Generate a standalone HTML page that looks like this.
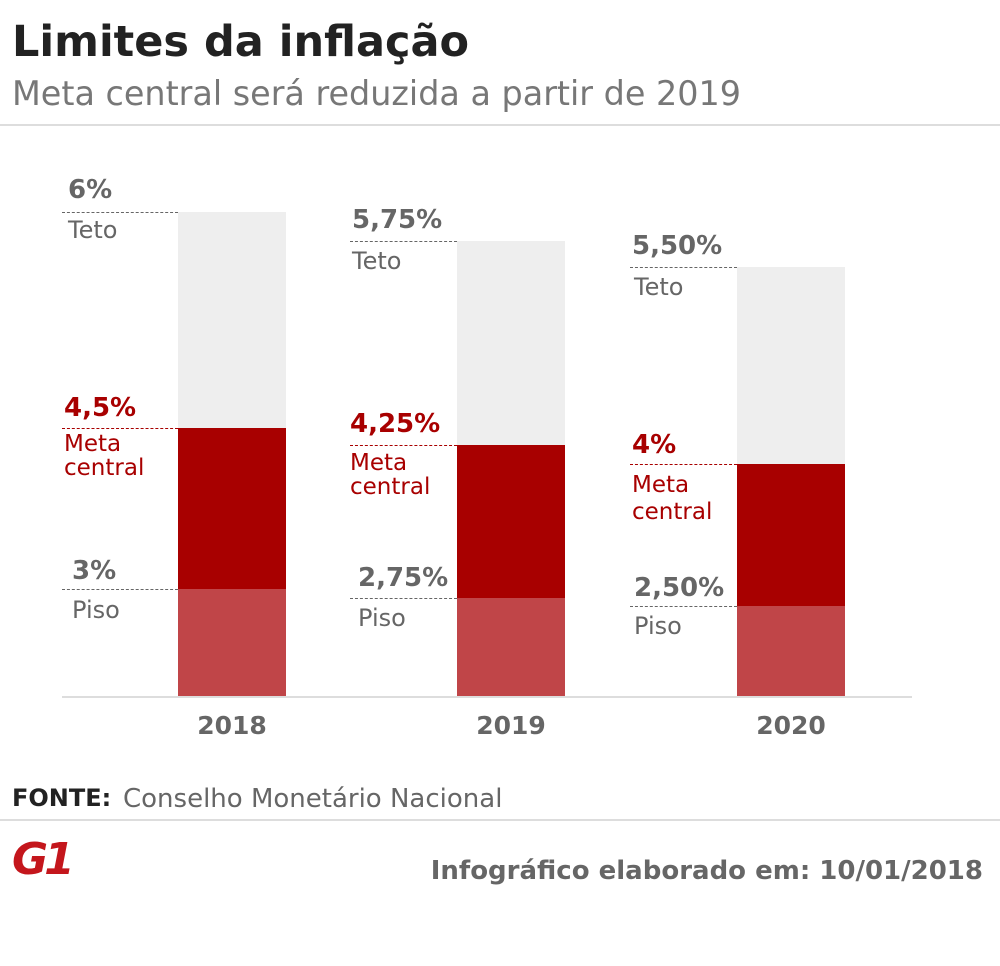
<!DOCTYPE html>
<html><head><meta charset="utf-8"><style>
body{margin:0;width:1000px;height:966px;background:#fff;position:relative;font-family:"DejaVu Sans","Liberation Sans",sans-serif;overflow:hidden}
.a{position:absolute;white-space:nowrap;line-height:1}
.p{font-weight:bold;font-size:26px;color:#666}
.l{font-size:24px;color:#666}
.r{color:#a80000}
.m{font-size:23px}
.d{position:absolute;height:0;border-top:1.5px dashed #666}
.b{position:absolute}
</style></head><body>
<div class="a" style="left:12px;top:21px;font-size:43px;font-weight:bold;color:#222">Limites da inflação</div>
<div class="a" style="left:12px;top:77px;font-size:33.4px;color:#777">Meta central será reduzida a partir de 2019</div>
<div class="b" style="left:0;top:124px;width:1000px;height:2px;background:#ddd"></div>

<div class="b" style="left:178px;top:212px;width:108px;height:216px;background:#eee"></div>
<div class="b" style="left:178px;top:428px;width:108px;height:161px;background:#a80000"></div>
<div class="b" style="left:178px;top:589px;width:108px;height:107px;background:#c04548"></div>
<div class="b" style="left:457px;top:241px;width:108px;height:204px;background:#eee"></div>
<div class="b" style="left:457px;top:445px;width:108px;height:153px;background:#a80000"></div>
<div class="b" style="left:457px;top:598px;width:108px;height:98px;background:#c04548"></div>
<div class="b" style="left:737px;top:267px;width:108px;height:197px;background:#eee"></div>
<div class="b" style="left:737px;top:464px;width:108px;height:142px;background:#a80000"></div>
<div class="b" style="left:737px;top:606px;width:108px;height:90px;background:#c04548"></div>
<div class="b" style="left:62px;top:696px;width:850px;height:2px;background:#ddd"></div>

<div class="d" style="left:62px;top:212px;width:116px"></div>
<div class="d" style="left:62px;top:428px;width:116px;border-color:#a80000"></div>
<div class="d" style="left:62px;top:589px;width:116px"></div>
<div class="d" style="left:350px;top:241px;width:107px"></div>
<div class="d" style="left:350px;top:445px;width:107px;border-color:#a80000"></div>
<div class="d" style="left:350px;top:598px;width:107px"></div>
<div class="d" style="left:630px;top:267px;width:107px"></div>
<div class="d" style="left:630px;top:464px;width:107px;border-color:#a80000"></div>
<div class="d" style="left:630px;top:606px;width:107px"></div>

<div class="a p" style="left:68px;top:177px">6%</div>
<div class="a l" style="left:68px;top:218px">Teto</div>
<div class="a p r" style="left:64px;top:395px">4,5%</div>
<div class="a l r m" style="left:64px;top:433px">Meta</div>
<div class="a l r m" style="left:64px;top:457px">central</div>
<div class="a p" style="left:72px;top:558px">3%</div>
<div class="a l" style="left:72px;top:598px">Piso</div>

<div class="a p" style="left:352px;top:207px">5,75%</div>
<div class="a l" style="left:352px;top:249px">Teto</div>
<div class="a p r" style="left:350px;top:411px">4,25%</div>
<div class="a l r m" style="left:350px;top:452px">Meta</div>
<div class="a l r m" style="left:350px;top:476px">central</div>
<div class="a p" style="left:358px;top:565px">2,75%</div>
<div class="a l" style="left:358px;top:606px">Piso</div>

<div class="a p" style="left:632px;top:233px">5,50%</div>
<div class="a l" style="left:634px;top:275px">Teto</div>
<div class="a p r" style="left:632px;top:432px">4%</div>
<div class="a l r m" style="left:632px;top:474px">Meta</div>
<div class="a l r m" style="left:632px;top:501px">central</div>
<div class="a p" style="left:634px;top:575px">2,50%</div>
<div class="a l" style="left:634px;top:614px">Piso</div>

<div class="a p" style="left:178px;width:108px;text-align:center;top:713px;font-size:25px">2018</div>
<div class="a p" style="left:457px;width:108px;text-align:center;top:713px;font-size:25px">2019</div>
<div class="a p" style="left:737px;width:108px;text-align:center;top:713px;font-size:25px">2020</div>

<div class="a" style="left:12px;top:786px;font-size:24px;color:#222;font-weight:bold">FONTE:</div>
<div class="a" style="left:123px;top:786px;font-size:26px;color:#666">Conselho Monetário Nacional</div>
<div class="b" style="left:0;top:819px;width:1000px;height:2px;background:#ddd"></div>
<div class="a" style="left:12px;top:838px;font-size:44px;font-weight:bold;color:#c4161c;font-style:italic;letter-spacing:-4px">G1</div>
<div class="a" style="right:17px;top:858px;font-size:26px;color:#666;font-weight:bold">Infográfico elaborado em: 10/01/2018</div>
</body></html>
